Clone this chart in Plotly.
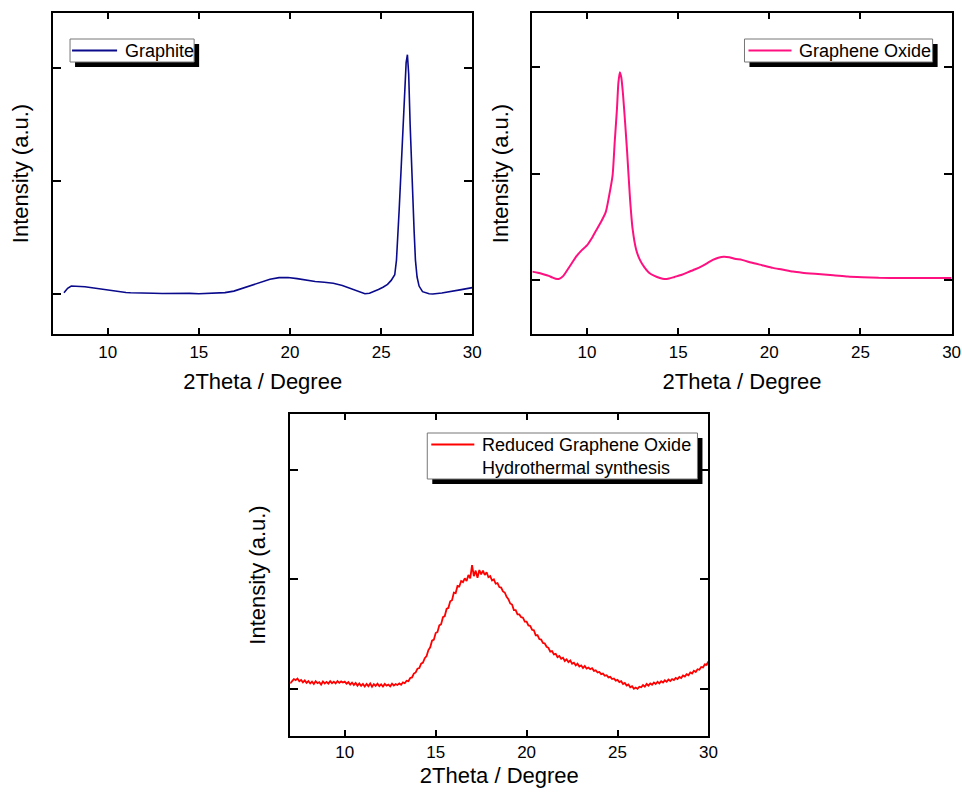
import numpy as np
import plotly.graph_objects as go

# ---------------- data ----------------
graphite_x = [7.6, 7.8, 8.0, 8.25, 8.5, 8.75, 9.0, 9.25, 9.5, 9.75,
              10.0, 10.25, 10.5, 10.75, 11.0, 11.25, 11.5, 11.75, 12.0, 12.5,
              13.0, 13.5, 14.0, 14.5, 15.0, 15.5, 15.93, 16.43, 16.92, 17.41,
              17.91, 18.41, 18.9, 19.4, 19.89, 20.39, 20.89, 21.38, 21.88, 22.37,
              22.87, 23.37, 23.86, 24.11, 24.36, 24.6, 24.85, 25.1, 25.35, 25.55,
              25.745, 25.84, 25.9, 25.99, 26.11, 26.2, 26.29, 26.37, 26.44, 26.51,
              26.59, 26.66, 26.74, 26.81, 26.88, 26.97, 27.08, 27.27, 27.63, 27.83,
              28.33, 28.82, 29.4, 30.0]
graphite_y = [0.01, 0.05, 0.07, 0.071, 0.066, 0.064, 0.058, 0.056, 0.05, 0.043,
              0.036, 0.028, 0.022, 0.018, 0.013, 0.011, 0.009, 0.012, 0.007, 0.006,
              0.004, 0.006, 0.003, 0.005, 0.002, 0.005, 0.006, 0.012, 0.025, 0.05,
              0.08, 0.105, 0.13, 0.145, 0.146, 0.136, 0.12, 0.11, 0.104, 0.095,
              0.075, 0.045, 0.012, 0.002, 0.006, 0.02, 0.04, 0.06, 0.085, 0.12,
              0.17, 0.3, 0.45, 0.75, 1.16, 1.5, 1.89, 2.05, 2.12, 1.95,
              1.5, 1.15, 0.85, 0.55, 0.3, 0.15, 0.07, 0.02, 0.002, 0.0,
              0.008, 0.02, 0.038, 0.056]

go_x = [7.0, 7.3, 7.6, 7.9, 8.1, 8.36, 8.5, 8.7, 8.9, 9.19,
        9.4, 9.65, 10.02, 10.25, 10.48, 10.75, 11.03, 11.2, 11.4, 11.52,
        11.64, 11.72, 11.8, 11.88, 11.97, 12.1, 12.2, 12.36, 12.5, 12.69,
        12.9, 13.15, 13.4, 13.7, 14.0, 14.24, 14.5, 14.8, 15.2, 15.55,
        15.9, 16.28, 16.6, 16.9, 17.2, 17.5, 17.8, 18.1, 18.5, 19.0,
        19.6, 20.2, 20.7, 21.3, 21.8, 22.5, 23.5, 24.3, 25.1, 26.0,
        27.3, 28.5, 30.0]
go_y = [0.08, 0.07, 0.056, 0.04, 0.025, 0.01, 0.015, 0.04, 0.09, 0.165,
        0.22, 0.27, 0.33, 0.39, 0.46, 0.54, 0.64, 0.78, 0.98, 1.3,
        1.6, 1.85, 1.95, 1.9, 1.75, 1.45, 1.2, 0.76, 0.48, 0.29,
        0.19, 0.12, 0.07, 0.04, 0.02, 0.01, 0.015, 0.03, 0.05, 0.075,
        0.1, 0.13, 0.16, 0.19, 0.21, 0.22, 0.215, 0.2, 0.19, 0.165,
        0.14, 0.115, 0.1, 0.08, 0.07, 0.06, 0.047, 0.035, 0.028, 0.022,
        0.02, 0.02, 0.02]

# rGO scan: 2-theta from 7.0 to 30.0 in 0.1 degree steps (one row per degree)
rgo_start, rgo_step = 7.0, 0.1
rgo_y = [
    0.05, 0.075, 0.09, 0.08, 0.095, 0.07, 0.082, 0.06, 0.078, 0.055,
    0.072, 0.05, 0.066, 0.045, 0.07, 0.052, 0.062, 0.04, 0.068, 0.05,
    0.064, 0.048, 0.07, 0.052, 0.066, 0.05, 0.072, 0.055, 0.068, 0.058,
    0.066, 0.048, 0.062, 0.04, 0.058, 0.036, 0.055, 0.03, 0.05, 0.028,
    0.046, 0.022, 0.045, 0.025, 0.05, 0.02, 0.044, 0.028, 0.048, 0.026,
    0.042, 0.022, 0.046, 0.03, 0.04, 0.024, 0.048, 0.03, 0.044, 0.036,
    0.05, 0.038, 0.06, 0.052, 0.075, 0.07, 0.1, 0.105, 0.14, 0.15,
    0.185, 0.19, 0.23, 0.24, 0.28, 0.3, 0.355, 0.38, 0.44, 0.45,
    0.51, 0.52, 0.58, 0.59, 0.655, 0.665, 0.73, 0.74, 0.8, 0.81,
    0.88, 0.875, 0.94, 0.935, 0.985, 0.975, 1.01, 0.985, 1.04, 1.01,
    1.13, 1.03, 1.08, 1.015, 1.085, 1.045, 1.08, 1.04, 1.065, 1.02,
    1.03, 0.99, 1.0, 0.96, 0.965, 0.93, 0.925, 0.89, 0.88, 0.84,
    0.82, 0.78, 0.77, 0.72, 0.72, 0.68, 0.68, 0.655, 0.65, 0.615,
    0.615, 0.58, 0.575, 0.54, 0.535, 0.49, 0.49, 0.455, 0.45, 0.42,
    0.415, 0.385, 0.375, 0.34, 0.345, 0.315, 0.32, 0.29, 0.3, 0.275,
    0.285, 0.255, 0.27, 0.245, 0.26, 0.23, 0.24, 0.215, 0.23, 0.205,
    0.215, 0.19, 0.21, 0.185, 0.195, 0.18, 0.19, 0.165, 0.17, 0.15,
    0.155, 0.135, 0.14, 0.12, 0.125, 0.105, 0.11, 0.09, 0.095, 0.075,
    0.082, 0.062, 0.07, 0.045, 0.055, 0.03, 0.04, 0.015, 0.025, 0.002,
    0.012, 0.0, 0.02, 0.015, 0.035, 0.02, 0.045, 0.03, 0.05, 0.038,
    0.058, 0.045, 0.065, 0.05, 0.07, 0.058, 0.078, 0.065, 0.085, 0.072,
    0.09, 0.08, 0.1, 0.09, 0.11, 0.1, 0.122, 0.112, 0.135, 0.125,
    0.15, 0.14, 0.165, 0.155, 0.18, 0.175, 0.2, 0.195, 0.225, 0.22,
    0.25]
rgo_x = list(np.round(rgo_start + rgo_step * np.arange(len(rgo_y)), 2))

x_ticks = [10, 15, 20, 25, 30]
x_range = [7, 30]
x_title = "2Theta / Degree"
y_title = "Intensity (a.u.)"

series_names = ["Graphite", "Graphene Oxide", "Reduced Graphene Oxide"]
series_colors = ["#0a0a8c", "#ff1080", "#ff0000"]
extra_legend_text = "Hydrothermal synthesis"

FONT = "Liberation Sans, Arial, sans-serif"
W, H = 962, 793
SX = 0.99  # horizontal correction measured on the rendered page

def px_x(p):
    return p / (W * SX)

def px_y(p):
    return 1 - p / H

fig = go.Figure()
fig.add_trace(go.Scatter(x=graphite_x, y=graphite_y, mode="lines", name=series_names[0],
                         line=dict(color=series_colors[0], width=1.6), xaxis="x", yaxis="y"))
fig.add_trace(go.Scatter(x=go_x, y=go_y, mode="lines", name=series_names[1],
                         line=dict(color=series_colors[1], width=2, shape="spline", smoothing=0.6),
                         xaxis="x2", yaxis="y2"))
fig.add_trace(go.Scatter(x=rgo_x, y=rgo_y, mode="lines", name=series_names[2],
                         line=dict(color=series_colors[2], width=1.8), xaxis="x3", yaxis="y3"))

panels = [
    # (x0,x1,ytop,ybottom) in screen pixels, y range, tick label standoff, title standoff
    (53, 472, 13, 334, [-0.355, 2.49], 2, 12),
    (532, 951, 13, 334, [-0.505, 2.505], 2, 12),
    (290, 708, 414, 736, [-0.43, 2.51], 0, 6),
]

axis_common = dict(showline=True, linecolor="black", linewidth=2, mirror="ticks",
                   ticks="inside", tickcolor="black", tickwidth=1.5, showgrid=False,
                   zeroline=False)
for i, (x0, x1, yt, yb, yr, tls, tst) in enumerate(panels):
    sfx = "" if i == 0 else str(i + 1)
    fig.layout["xaxis" + sfx] = dict(
        domain=[px_x(x0), px_x(x1)], anchor="y" + sfx, range=x_range,
        tickvals=x_ticks, ticklen=6, ticklabelstandoff=tls,
        tickfont=dict(family=FONT, size=17, color="black"),
        title=dict(text=x_title, font=dict(family=FONT, size=22, color="black"), standoff=tst),
        **axis_common)
    fig.layout["yaxis" + sfx] = dict(
        domain=[px_y(yb), px_y(yt)], anchor="x" + sfx, range=yr,
        tick0=0, dtick=1, ticklen=8, showticklabels=False,
        title=dict(text=y_title, font=dict(family=FONT, size=22, color="black"), standoff=16),
        **axis_common)

# legend boxes (screen pixels): left, top, right, bottom, line x0, line x1, text x, rows
legend_boxes = [
    (70, 39, 194, 62, 72, 117, 123, [series_names[0]]),
    (744, 39, 932, 62, 748, 791, 796, [series_names[1]]),
    (427, 433, 697, 479, 431, 474, 480, [series_names[2], extra_legend_text]),
]
for i, (l, t, r, b, lx0, lx1, tx, rows) in enumerate(legend_boxes):
    # drop shadow
    fig.add_shape(type="rect", xref="paper", yref="paper",
                  x0=px_x(l + 5), x1=px_x(r + 5), y0=px_y(b + 5), y1=px_y(t + 5),
                  fillcolor="black", line=dict(width=0), layer="above")
    fig.add_shape(type="rect", xref="paper", yref="paper",
                  x0=px_x(l), x1=px_x(r), y0=px_y(b), y1=px_y(t),
                  fillcolor="white", line=dict(color="#777777", width=1), layer="above")
    row_h = (b - t) / len(rows)
    for j, txt in enumerate(rows):
        cy = t + row_h * (j + 0.5)
        if j == 0:
            fig.add_shape(type="line", xref="paper", yref="paper",
                          x0=px_x(lx0), x1=px_x(lx1), y0=px_y(cy), y1=px_y(cy),
                          line=dict(color=series_colors[i], width=2), layer="above")
        fig.add_annotation(text=txt, xref="paper", yref="paper", x=px_x(tx), y=px_y(cy),
                           xanchor="left", yanchor="middle", showarrow=False,
                           font=dict(family=FONT, size=18, color="black"))

fig.update_layout(width=W, height=H, margin=dict(l=0, r=0, t=0, b=0),
                  paper_bgcolor="white", plot_bgcolor="white", showlegend=False,
                  font=dict(family=FONT, color="black"))

# place the figure flush with the page corner so it fills the window exactly
fig.write_html("out.html", config={"displayModeBar": False},
               post_script="document.body.style.margin='0px';")
